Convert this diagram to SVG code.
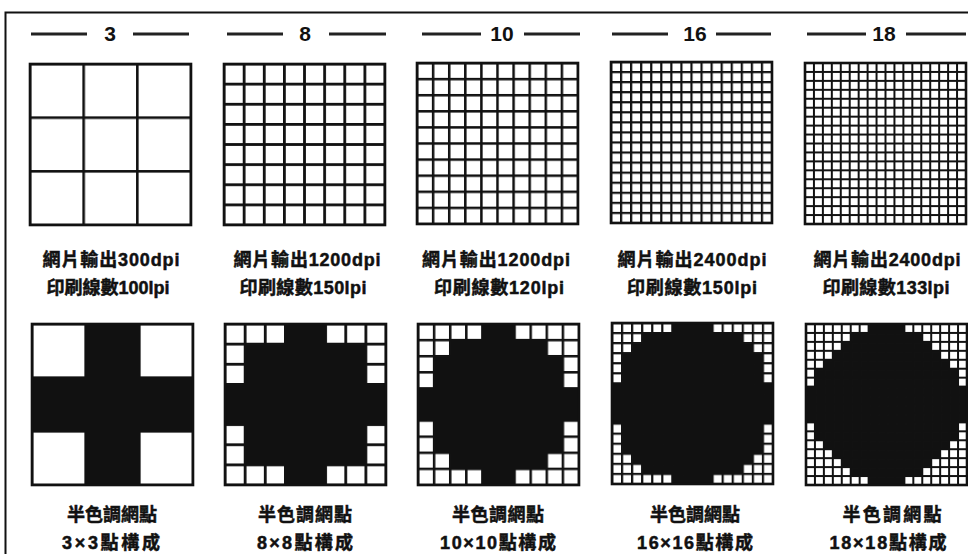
<svg xmlns="http://www.w3.org/2000/svg" width="968" height="554" viewBox="0 0 968 554">
<style>
.frame{fill:none;stroke:#111;stroke-width:2}
.hl{stroke:#222;stroke-width:3}
.ht{font-family:"Liberation Sans",Arial,sans-serif;font-weight:bold;font-size:21px;fill:#111;text-anchor:middle}
.lb{font-family:"Liberation Sans","Noto Sans CJK TC","Noto Sans CJK SC",sans-serif;font-weight:bold;font-size:18px;fill:#111;stroke:#111;stroke-width:0.5;text-anchor:middle}
.bg{fill:#fff}
.bd{fill:none;stroke:#111;stroke-width:2.6}
.blk{fill:#111}
</style>
<defs>
<pattern id="p3" width="53.667" height="53.667" patternUnits="userSpaceOnUse" x="-1.3" y="-1.3"><rect width="53.667" height="2.6" fill="#111"/><rect width="2.6" height="53.667" fill="#111"/></pattern>
<pattern id="p8" width="20.125" height="20.125" patternUnits="userSpaceOnUse" x="-1.4" y="-1.4"><rect width="20.125" height="2.8" fill="#111"/><rect width="2.8" height="20.125" fill="#111"/></pattern>
<pattern id="p10" width="16.1" height="16.1" patternUnits="userSpaceOnUse" x="-1.25" y="-1.25"><rect width="16.1" height="2.5" fill="#111"/><rect width="2.5" height="16.1" fill="#111"/></pattern>
<pattern id="p16" width="10.0625" height="10.0625" patternUnits="userSpaceOnUse" x="-1.1" y="-1.1"><rect width="10.0625" height="2.2" fill="#111"/><rect width="2.2" height="10.0625" fill="#111"/></pattern>
<pattern id="p18" width="8.9444" height="8.9444" patternUnits="userSpaceOnUse" x="-1" y="-1"><rect width="8.9444" height="2" fill="#111"/><rect width="2" height="8.9444" fill="#111"/></pattern>
</defs>
<rect width="968" height="554" fill="#fff"/>
<path class="frame" d="M5.5 554V12.5H968"/>

<g id="col-3">
<g id="header-3"><line class="hl" x1="31" y1="34" x2="87" y2="34"/><text class="ht" x="110" y="41">3</text><line class="hl" x1="133" y1="34" x2="189" y2="34"/></g>
<g id="grid-3" transform="translate(30,64)"><rect class="bg" width="161" height="161"/><rect width="161" height="161" fill="url(#p3)"/><rect class="bd" width="161" height="161"/></g>
<g id="spec-3"><text class="lb" x="111" y="266" textLength="137" lengthAdjust="spacing">網片輸出300dpi</text><text class="lb" x="108" y="294" textLength="123" lengthAdjust="spacing">印刷線數100lpi</text></g>
<g id="dot-3" transform="translate(32,324)"><rect class="bg" width="161" height="161"/><polygon class="blk" transform="scale(53.667)" points="1,0 2,0 2,1 3,1 3,2 2,2 2,3 1,3 1,2 0,2 0,1 1,1"/><rect width="161" height="161" fill="url(#p3)"/><rect class="bd" width="161" height="161"/></g>
<g id="caption-3"><text class="lb" x="112" y="521" textLength="90" lengthAdjust="spacing">半色調網點</text><text class="lb" x="111" y="549" textLength="98" lengthAdjust="spacing">3×3點構成</text></g>
</g>

<g id="col-8">
<g id="header-8"><line class="hl" x1="227" y1="34" x2="283" y2="34"/><text class="ht" x="305" y="41">8</text><line class="hl" x1="329" y1="34" x2="386" y2="34"/></g>
<g id="grid-8" transform="translate(224,64)"><rect class="bg" width="161" height="161"/><rect width="161" height="161" fill="url(#p8)"/><rect class="bd" width="161" height="161"/></g>
<g id="spec-8"><text class="lb" x="307" y="266" textLength="147" lengthAdjust="spacing">網片輸出1200dpi</text><text class="lb" x="303" y="294" textLength="127" lengthAdjust="spacing">印刷線數150lpi</text></g>
<g id="dot-8" transform="translate(225,324)"><rect class="bg" width="161" height="161"/><polygon class="blk" transform="scale(20.125)" points="3,0 5,0 5,1 7,1 7,3 8,3 8,5 7,5 7,7 5,7 5,8 3,8 3,7 1,7 1,5 0,5 0,3 1,3 1,1 3,1"/><rect width="161" height="161" fill="url(#p8)"/><rect class="bd" width="161" height="161"/></g>
<g id="caption-8"><text class="lb" x="305" y="521" textLength="94" lengthAdjust="spacing">半色調網點</text><text class="lb" x="305" y="549" textLength="96" lengthAdjust="spacing">8×8點構成</text></g>
</g>

<g id="col-10">
<g id="header-10"><line class="hl" x1="422" y1="34" x2="481" y2="34"/><text class="ht" x="502" y="41">10</text><line class="hl" x1="524" y1="34" x2="580" y2="34"/></g>
<g id="grid-10" transform="translate(417,63)"><rect class="bg" width="161" height="161"/><rect width="161" height="161" fill="url(#p10)"/><rect class="bd" width="161" height="161"/></g>
<g id="spec-10"><text class="lb" x="496" y="266" textLength="148" lengthAdjust="spacing">網片輸出1200dpi</text><text class="lb" x="499" y="294" textLength="130" lengthAdjust="spacing">印刷線數120lpi</text></g>
<g id="dot-10" transform="translate(418,324)"><rect class="bg" width="161" height="161"/><polygon class="blk" transform="scale(16.1)" points="4,0 6,0 6,1 8,1 8,2 9,2 9,4 10,4 10,6 9,6 9,8 8,8 8,9 6,9 6,10 4,10 4,9 2,9 2,8 1,8 1,6 0,6 0,4 1,4 1,2 2,2 2,1 4,1"/><rect width="161" height="161" fill="url(#p10)"/><rect class="bd" width="161" height="161"/></g>
<g id="caption-10"><text class="lb" x="498" y="521" textLength="92" lengthAdjust="spacing">半色調網點</text><text class="lb" x="498" y="549" textLength="116" lengthAdjust="spacing">10×10點構成</text></g>
</g>

<g id="col-16">
<g id="header-16"><line class="hl" x1="612" y1="34" x2="668" y2="34"/><text class="ht" x="695" y="41">16</text><line class="hl" x1="716" y1="34" x2="771" y2="34"/></g>
<g id="grid-16" transform="translate(611,62)"><rect class="bg" width="161" height="161"/><rect width="161" height="161" fill="url(#p16)"/><rect class="bd" width="161" height="161"/></g>
<g id="spec-16"><text class="lb" x="692" y="266" textLength="149" lengthAdjust="spacing">網片輸出2400dpi</text><text class="lb" x="692" y="294" textLength="130" lengthAdjust="spacing">印刷線數150lpi</text></g>
<g id="dot-16" transform="translate(612,323)"><rect class="bg" width="161" height="161"/><polygon class="blk" transform="scale(10.0625)" points="6,0 10,0 10,1 13,1 13,2 14,2 14,3 15,3 15,6 16,6 16,10 15,10 15,13 14,13 14,14 13,14 13,15 10,15 10,16 6,16 6,15 3,15 3,14 2,14 2,13 1,13 1,10 0,10 0,6 1,6 1,3 2,3 2,2 3,2 3,1 6,1"/><rect width="161" height="161" fill="url(#p16)"/><rect class="bd" width="161" height="161"/></g>
<g id="caption-16"><text class="lb" x="695" y="521" textLength="90" lengthAdjust="spacing">半色調網點</text><text class="lb" x="695" y="549" textLength="116" lengthAdjust="spacing">16×16點構成</text></g>
</g>

<g id="col-18">
<g id="header-18"><line class="hl" x1="807" y1="34" x2="866" y2="34"/><text class="ht" x="884" y="41">18</text><line class="hl" x1="906" y1="34" x2="966" y2="34"/></g>
<g id="grid-18" transform="translate(805,63)"><rect class="bg" width="161" height="161"/><rect width="161" height="161" fill="url(#p18)"/><rect class="bd" width="161" height="161"/></g>
<g id="spec-18"><text class="lb" x="887" y="266" textLength="147" lengthAdjust="spacing">網片輸出2400dpi</text><text class="lb" x="886" y="294" textLength="127" lengthAdjust="spacing">印刷線數133lpi</text></g>
<g id="dot-18" transform="translate(806,324)"><rect class="bg" width="161" height="161"/><polygon class="blk" transform="scale(8.9444)" points="7,0 11,0 11,1 13,1 13,2 14,2 14,3 15,3 15,4 16,4 16,5 17,5 17,7 18,7 18,11 17,11 17,13 16,13 16,14 15,14 15,15 14,15 14,16 13,16 13,17 11,17 11,18 7,18 7,17 5,17 5,16 4,16 4,15 3,15 3,14 2,14 2,13 1,13 1,11 0,11 0,7 1,7 1,5 2,5 2,4 3,4 3,3 4,3 4,2 5,2 5,1 7,1"/><rect width="161" height="161" fill="url(#p18)"/><rect class="bd" width="161" height="161"/></g>
<g id="caption-18"><text class="lb" x="892" y="521" textLength="99" lengthAdjust="spacing">半色調網點</text><text class="lb" x="888" y="549" textLength="117" lengthAdjust="spacing">18×18點構成</text></g>
</g>
</svg>
